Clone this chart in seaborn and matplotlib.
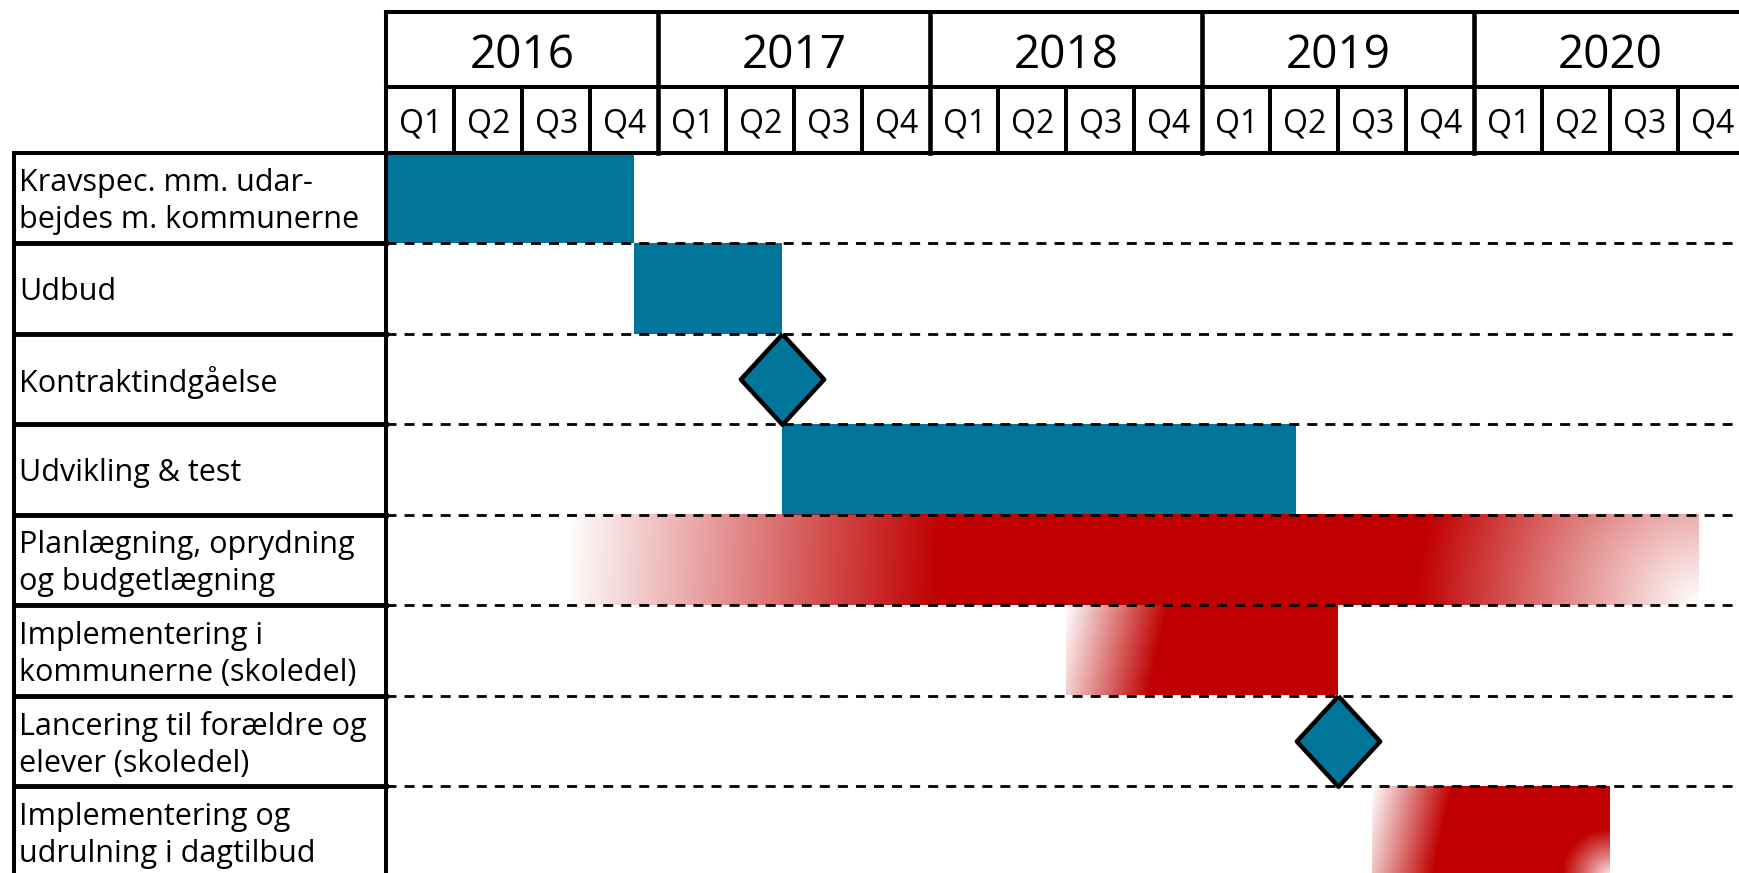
import numpy as np
import matplotlib
matplotlib.use("Agg")
import matplotlib.pyplot as plt
import seaborn as sns
from matplotlib import font_manager as fm
from matplotlib.colors import to_rgb

# ---------------- data ----------------
years = [2016, 2017, 2018, 2019, 2020]
quarters = ["Q1", "Q2", "Q3", "Q4"]

task_labels = [
    "Kravspec. mm. udar-\nbejdes m. kommunerne",
    "Udbud",
    "Kontraktindgåelse",
    "Udvikling & test",
    "Planlægning, oprydning\nog budgetlægning",
    "Implementering i\nkommunerne (skoledel)",
    "Lancering til forældre og\nelever (skoledel)",
    "Implementering og\nudrulning i dagtilbud",
]
# decimal years
task_start = [2016.00, 2016.91, 2017.455, 2017.455, 2016.66, 2018.50, 2019.50, 2019.625]
task_end = [2016.91, 2017.455, 2017.455, 2019.344, 2020.825, 2019.50, 2019.50, 2020.50]
task_kind = ["fase", "fase", "milepæl", "fase", "glidende", "glidende", "milepæl", "glidende"]

# ---------------- style ----------------
TEAL = "#02759A"
RED = "#C00000"
W, H, DPI = 1739, 873, 100
X0_PX, PX_PER_YEAR = 386.5, 272.0
Y0_PX, PX_PER_ROW = 152.5, 90.5

# fade style for the soft red bars (pixels)
fade_style = {
    4: dict(left=374, tilt=0.05, right_r=282, glow_r=0),
    5: dict(left=102, tilt=0.22, right_r=0, glow_r=0),
    7: dict(left=80, tilt=0.22, right_r=0, glow_r=48),
}


def X(px):
    return years[0] + (px - X0_PX) / PX_PER_YEAR


def Y(px):
    return (px - Y0_PX) / PX_PER_ROW


def has_font(name):
    try:
        fm.findfont(fm.FontProperties(family=name), fallback_to_default=False)
        return True
    except Exception:
        return False


sns.set_theme(style="white")
label_font = "Open Sans" if has_font("Open Sans") else "DejaVu Sans"
if has_font("Liberation Sans Narrow"):
    head_font, year_size, q_size = "Liberation Sans Narrow", 35, 26
else:
    head_font, year_size, q_size = label_font, 33, 23
plt.rcParams["font.family"] = [label_font, "DejaVu Sans"]

fig = plt.figure(figsize=(W / DPI, H / DPI), dpi=DPI)
ax = fig.add_axes([0, 0, 1, 1])
ax.set_facecolor("white")

rows = np.arange(len(task_labels))
centers = rows + 0.5
start = np.array(task_start)
end = np.array(task_end)
kind = np.array(task_kind)

# ---- solid teal phases ----
m = kind == "fase"
ax.barh(centers[m], end[m] - start[m], left=start[m], height=1.0,
        color=TEAL, linewidth=0, zorder=2)

# ---- soft red phases (gradient alpha) ----
red = to_rgb(RED)
for i in np.where(kind == "glidende")[0]:
    st = fade_style[i]
    wpx = (end[i] - start[i]) * PX_PER_YEAR
    hpx = PX_PER_ROW
    nx, ny = int(round(wpx)), int(round(hpx))
    dx = (np.arange(nx) + 0.5)[None, :] * wpx / nx
    dy = (np.arange(ny) + 0.5)[:, None] * hpx / ny
    a = np.clip((dx + st["tilt"] * dy) / st["left"], 0, 1)
    if st["right_r"]:
        d = np.hypot(wpx - dx, hpx - dy)
        a = np.minimum(a, np.clip(d / st["right_r"], 0, 1))
    if st["glow_r"]:
        d = np.hypot(wpx - dx, hpx - dy)
        a = np.minimum(a, np.clip(d / st["glow_r"], 0, 1) ** 0.8)
    rgba = np.zeros((ny, nx, 4))
    rgba[..., :3] = red
    rgba[..., 3] = a
    ax.imshow(rgba, extent=(start[i], end[i], rows[i] + 1, rows[i]),
              aspect="auto", interpolation="bilinear", zorder=2)

# ---- dashed row separators in chart area ----
x_right = X(W) + 0.1
dl = ax.hlines(rows[1:], years[0], x_right, colors="black", linewidth=2.0,
               linestyles=(0, (3.6, 2.9)), zorder=4)

# ---- milestones ----
m = kind == "milepæl"
verts = [(0, 1), (0.92, 0), (0, -1), (-0.92, 0), (0, 1)]
sns.scatterplot(x=start[m], y=centers[m], marker=verts, s=4250, color=TEAL,
                edgecolor="black", linewidth=3.2, zorder=6, ax=ax, legend=False)

# ---- header table ----
LW = 2.9
top_px, mid_px = 11.7, 87.0
q_lines = [y + k / 4 for y in years for k in (1, 2, 3)]
y_lines = years[1:] + [years[-1] + 1]
for coll in [
    ax.hlines([Y(top_px), Y(mid_px)], years[0], x_right, colors="black", linewidth=LW),
    ax.hlines([0], X(14), x_right, colors="black", linewidth=LW),
    ax.vlines([years[0]], Y(top_px), Y(H) + 0.1, colors="black", linewidth=LW),
    ax.vlines(y_lines, Y(top_px), 0, colors="black", linewidth=LW + 0.4),
    ax.vlines(q_lines, Y(mid_px), 0, colors="black", linewidth=LW),
    ax.vlines([X(14)], 0, Y(H) + 0.1, colors="black", linewidth=LW),
    ax.hlines(rows[1:], X(14), years[0], colors="black", linewidth=LW + 0.6),
]:
    coll.set_capstyle("projecting")
    coll.set_zorder(7)

for y in years:
    ax.text(y + 0.5, Y(68.3), str(y), ha="center", va="baseline",
            fontsize=year_size, family=[head_font, "DejaVu Sans"], color="black", zorder=8)
    for k, q in enumerate(quarters):
        ax.text(y + (k + 0.5) / 4, Y(132.7), q, ha="center", va="baseline",
                fontsize=q_size, family=[head_font, "DejaVu Sans"], color="black", zorder=8)

# ---- row labels ----
for r, lab in zip(rows, task_labels):
    ax.text(X(19), r + 0.5 + 4 / PX_PER_ROW, lab, ha="left", va="center",
            fontsize=22, linespacing=1.3, color="black", zorder=8)

ax.set_xlim(X(0), X(W))
ax.set_ylim(Y(H), Y(0))
ax.axis("off")

fig.savefig("out.png", dpi=DPI, facecolor="white")
